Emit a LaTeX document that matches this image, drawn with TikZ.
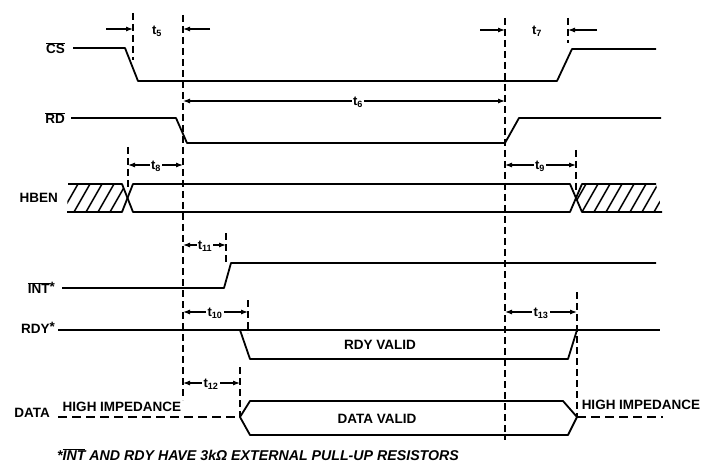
\documentclass[tikz,border=0pt]{standalone}
\usepackage{fontspec}
\setmainfont{Liberation Sans}
\usetikzlibrary{arrows.meta, positioning}

\newcommand{\tm}[1]{t\textsubscript{#1}}
\newcommand{\ovl}[1]{$\overline{\mbox{#1}}$}

\begin{document}
\begin{tikzpicture}[x=1pt, y=-1pt,
    sig/.style={line width=1.8pt, line join=round},
    guide/.style={line width=1.1pt, dash pattern=on 7pt off 4pt},
    hiz/.style={line width=1.3pt, dash pattern=on 9pt off 5pt},
    dimline/.style={line width=1.1pt, {Latex[length=7pt,width=5pt]}-{Latex[length=7pt,width=5pt]}},
    ptr/.style={line width=1.1pt, -{Latex[length=7pt,width=5pt]}},
    tlab/.style={font=\bfseries\fontsize{13}{14}\selectfont, fill=white, inner sep=1.5pt},
    siglabel/.style={font=\bfseries\fontsize{13.5}{15}\selectfont, anchor=east, inner sep=0pt},
    txt/.style={font=\bfseries\fontsize{13.5}{15}\selectfont, inner sep=0pt}]
  \useasboundingbox (0,0) rectangle (702,468);

  % guide lines
  \foreach \x/\a/\b in {133/13/60, 183/15/400, 505/18/440, 568/18/43,
                        128/147/190, 576/150/190, 226/233/265,
                        248/300/333, 240/367/417, 577/292/417}
    \draw[guide] (\x,\a) -- (\x,\b);

  % CS
  \node[siglabel] (cs) at (65,48) {\ovl{CS}};
  \draw[sig] (73,48) -- (125,48) -- (138,81) -- (557,81) -- (572,49) -- (656,49);
  \draw[ptr] (106,29) -- (133,29);
  \draw[ptr] (210,29) -- (183,29);
  \node[tlab] (t5) at (157,31) {\tm{5}};
  \draw[ptr] (480,30) -- (505,30);
  \draw[ptr] (597,30) -- (568,30);
  \node[tlab] (t7) at (537,31) {\tm{7}};

  % RD
  \node[siglabel] (rd) at (65,118) {\ovl{RD}};
  \draw[sig] (71,118) -- (176,118) -- (187,143) -- (505,143) -- (519,118) -- (661,118);
  \draw[dimline] (183,101) -- (505,101);
  \node[tlab] (t6) at (358,102) {\tm{6}};

  % HBEN
  \node[siglabel] (hben) at (58,198) {HBEN};
  \begin{scope}
    \clip (68,184) -- (122,184) -- (127.5,198) -- (122,212) -- (67,212) -- cycle;
    \foreach \k in {0,...,6}
      \draw[line width=1.5pt] (50+\k*12,212) -- ++(16,-28);
  \end{scope}
  \begin{scope}
    \clip (582,184) -- (656,184) -- (662,212) -- (582,212) -- (576,198) -- cycle;
    \foreach \k in {0,...,8}
      \draw[line width=1.5pt] (570+\k*12,212) -- ++(16,-28);
  \end{scope}
  \draw[sig] (68,184) -- (122,184) -- (133,212) -- (570,212) -- (582,184) -- (656,184);
  \draw[sig] (67,212) -- (122,212) -- (133,184) -- (570,184) -- (582,212) -- (662,212);
  \draw[dimline] (128,165) -- (183,165);
  \node[tlab] (t8) at (156,166) {\tm{8}};
  \draw[dimline] (505,165) -- (576,165);
  \node[tlab] (t9) at (540,166) {\tm{9}};

  % INT
  \node[siglabel] (int) at (55,288) {\ovl{INT}\raisebox{2pt}{*}};
  \draw[sig] (62,288) -- (224,288) -- (231,263) -- (656,263);
  \draw[dimline] (183,245) -- (226,245);
  \node[tlab, inner sep=0.5pt] (t11) at (205,246) {\tm{11}};

  % RDY
  \node[siglabel] (rdy) at (55,328) {RDY\raisebox{2pt}{*}};
  \draw[sig] (58,330) -- (660,330);
  \draw[sig] (240,330) -- (250,359) -- (568,359) -- (577,330);
  \node[txt] (rdyv) at (380,345) {RDY VALID};
  \draw[dimline] (183,312) -- (248,312);
  \node[tlab] (t10) at (215,313) {\tm{10}};
  \draw[dimline] (505,312) -- (577,312);
  \node[tlab] (t13) at (541,313) {\tm{13}};

  % DATA
  \node[siglabel] (data) at (50,413) {DATA};
  \draw[hiz] (58,417) -- (240,417);
  \draw[sig] (240,417) -- (250,401) -- (563,401) -- (577,417) -- (568,435) -- (250,435) -- cycle;
  \draw[hiz] (577,417) -- (663,417);
  \node[txt] (hizl) at (122,407) {HIGH IMPEDANCE};
  \node[txt] (hizr) at (641,405) {HIGH IMPEDANCE};
  \node[txt] (datav) at (377,419) {DATA VALID};
  \draw[dimline] (183,383) -- (240,383);
  \node[tlab] (t12) at (211,384) {\tm{12}};

  \node[txt, font=\bfseries\itshape\fontsize{14.2}{15}\selectfont] (note) at (258,455)
    {*\ovl{INT} AND RDY HAVE 3kΩ EXTERNAL PULL-UP RESISTORS};
\end{tikzpicture}
\end{document}
